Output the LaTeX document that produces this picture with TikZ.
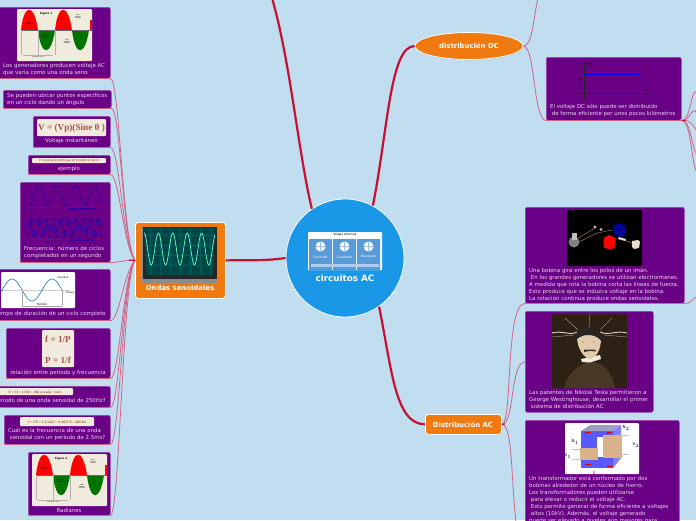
\documentclass[tikz,border=0pt]{standalone}
\usepackage{fontspec}
\setmainfont{DejaVu Sans}
\newfontfamily\serifeq{Liberation Serif}
\usetikzlibrary{shapes.geometric,shadows}
\definecolor{fondo}{RGB}{193,221,240}
\definecolor{morado}{RGB}{106,0,133}
\definecolor{naranja}{RGB}{240,122,16}
\definecolor{azulc}{RGB}{27,151,232}
\definecolor{azulp}{RGB}{88,155,216}
\definecolor{rama}{RGB}{200,16,52}
\definecolor{ramita}{RGB}{208,100,135}
\definecolor{crema}{RGB}{240,235,220}
\definecolor{tinta}{RGB}{165,85,75}
\definecolor{sepia}{RGB}{45,32,20}
\definecolor{saco}{RGB}{72,56,38}
\tikzset{
x=1pt, y=-1pt,
caja/.style={fill=morado, draw=morado!70!white, line width=0.5pt, rounded corners=2pt},
texto/.style={text=white!85!morado, font=\fontsize{5.45}{7}\selectfont, align=left, inner sep=0pt},
textoc/.style={texto, align=center},
tema/.style={fill=naranja, draw=white, line width=0.8pt, rounded corners=3pt, drop shadow={opacity=0.3, shadow xshift=0.4pt, shadow yshift=-0.8pt}},
titulo/.style={text=white, font=\fontsize{6.9}{8}\selectfont\bfseries, inner sep=0pt},
grueso/.style={draw=rama, line width=2.2pt},
fino/.style={draw=ramita, line width=0.8pt},
mini/.style={font=\fontsize{#1}{#1}\selectfont, inner sep=0pt, align=center},
mini/.default=2,
ecua/.style={text=tinta, font=\serifeq\fontsize{#1}{#1}\selectfont\bfseries, inner sep=0pt},
}
% figura de seno con semiciclos rojo y verde
\newcommand{\figseno}[3]{%
\begin{scope}[shift={(#1,#2)}]
\fill[crema, rounded corners=1pt] (0,0) rectangle (75,52);
\begin{scope}
\clip (0,0) rectangle (75,52);
\fill[red] (4,21) .. controls (7,-6) and (17,-6) .. (21,21) -- cycle;
\fill[red] (38,21) .. controls (41,-6) and (51,-6) .. (55,21) -- cycle;
\fill[red] (73,21) -- (73,11) -- (75,11) -- (75,21) -- cycle;
\fill[green!45!black] (21,21) .. controls (24,48) and (34,48) .. (38,21) -- cycle;
\fill[green!45!black] (55,21) .. controls (58,48) and (68,48) .. (72,21) -- cycle;
\draw[black!60, line width=0.25pt] (4,21) -- (75,21);
\draw[black!30, line width=0.2pt] (4,21) -- (4,46) (21,21) -- (21,46) (38,21) -- (38,46) (6,46) -- (36,46);
\end{scope}
\node[mini=2.6] at (29,4.5) {\bfseries Figure #3};
\node[mini=1.5] at (12,14.5) {Positive\\Alternation};
\node[mini=1.5] at (29,27) {Negative\\Alternation};
\node[mini=1.5] at (61,8) {Peak\\Positive\\Voltage};
\node[mini=1.5] at (50,33) {Peak\\Negative\\Voltage};
\node[mini=1.5] at (21,48.5) {Complete Cycle};
\end{scope}}
\begin{document}
\begin{tikzpicture}
\useasboundingbox[fill=fondo] (0,0) rectangle (696,520);
\clip (0,0) rectangle (696,520);

% hojas de la izquierda
\node[caja, minimum width=113pt, minimum height=71pt, anchor=north west] (generadores) at (-3,7) {};
\figseno{17}{9}{1}
\node[texto, anchor=north west] (generadorest) at (3,63) {Los generadores producen voltaje AC\\que varía como una onda seno};

\node[caja, minimum width=108pt, minimum height=18pt, anchor=north west] (puntos) at (3,90) {};
\node[texto, anchor=north west] (puntost) at (7,93) {Se pueden ubicar puntos específicos\\en un ciclo dando un ángulo};

\node[caja, minimum width=77pt, minimum height=31pt, anchor=north west] (instant) at (33,116) {};
\fill[crema, rounded corners=1pt] (37,119) rectangle (106,136);
\node[ecua=9.2] (instante) at (71.5,128) {V = (Vp)(Sine θ )};
\node[textoc] (instantt) at (71.5,141) {Voltaje instantáneo};

\node[caja, minimum width=82pt, minimum height=19pt, anchor=north west] (ejemplo) at (28,155) {};
\fill[crema, rounded corners=1pt] (32,158) rectangle (106,163);
\node[ecua=2.9] (ejemploe) at (69,160.5) {V=(Vp)(Sin θ)=(169V)(sin 30°)=(169)(0.5)=84.5V};
\node[textoc] (ejemplot) at (69,169) {ejemplo};

\node[caja, minimum width=90pt, minimum height=80pt, anchor=north west] (frecuencia) at (20,182) {};
\draw[blue!70!black, line width=0.3pt, domain=28:102, samples=80] plot (\x,{196-10*sin(19.4*(\x-34))});
\draw[blue!70!black, line width=0.3pt, domain=28:102, samples=160] plot (\x,{228-10*sin(48*(\x-28))});
\draw[blue!70!black, line width=0.2pt, domain=28:102, samples=160] plot (\x,{228-9*sin(48*(\x-30))});
\draw[red!70!black, line width=0.4pt] (28,207) -- (102,207) (28,239) -- (102,239);
\node[mini=2.6, text=blue!70!black] (bajat) at (83,210) {\bfseries BAJA FRECUENCIA};
\node[mini=2.6, text=blue!70!black] (altat) at (83,241) {\bfseries ALTA FRECUENCIA};
\node[texto, anchor=north west] (frecuenciat) at (24,246) {Frecuencia: número de ciclos\\completados en un segundo};

\node[caja, minimum width=113pt, minimum height=51pt, anchor=north west] (periodo) at (-3,269) {};
\fill[white, rounded corners=1pt] (1,272) rectangle (75,308);
\draw[black!20, line width=0.3pt] (1,290) -- (70,290);
\draw[cyan!60!blue, line width=0.6pt, domain=1:63, samples=60] plot (\x,{290-11*sin(9*(\x-1)-10)});
\draw[black!35, line width=0.2pt] (22,290) -- (22,306) (62,290) -- (62,306) (22,306) -- (62,306);
\node[mini=2.8, fill=white, inner sep=0.3pt] (periodol) at (42,304.5) {Período};
\node[mini=2.4] (tiempol) at (70,293) {Tiempo};
\node[mini=2.4] (amplitud) at (63,278) {Amplitud};
\node[texto, anchor=north east] (periodot) at (106,311) {Tiempo de duración de un ciclo completo};

\node[caja, minimum width=104pt, minimum height=50pt, anchor=north west] (relacion) at (6,328) {};
\fill[crema, rounded corners=1pt] (42,330) rectangle (74,367);
\node[ecua=9.2] (ef) at (58,339) {f = 1/P};
\node[ecua=9.2] (pe) at (58,360) {P = 1/f};
\node[textoc] (relaciont) at (58,373) {relación entre período y frecuencia};

\node[caja, minimum width=113pt, minimum height=21pt, anchor=north west] (ondaP) at (-3,386) {};
\fill[crema, rounded corners=1pt] (-3,388) rectangle (73,395);
\node[ecua=3.4] (ondaPe) at (35,392) {P = 1/f = 1/250 = .004 seconds = 4mS};
\node[texto, anchor=north east] (ondaPt) at (106,398) {¿Cuál es el período de una onda senoidal de 250Hz?};

\node[caja, minimum width=106pt, minimum height=29pt, anchor=north west] (ondaF) at (4,415) {};
\fill[crema, rounded corners=1pt] (20,417) rectangle (94,426);
\node[ecua=3.6] (ondaFe) at (57,422) {f = 1/P = 1/2.5mS = 1/.0025 S = 400 Hz};
\node[texto, anchor=north west] (ondaFt) at (8,428) {Cuál es la frecuencia de una onda\\\ senoidal con un período de 2.5ms?};

\node[caja, minimum width=82pt, minimum height=63pt, anchor=north west] (radianes) at (28,452) {};
\figseno{32}{454}{2}
\node[textoc] (radianest) at (69,510) {Radianes};

% ondas senoidales
\node[tema, minimum width=90pt, minimum height=76pt, anchor=north west] (ondas) at (135,222) {};
\fill[black!45] (142,227) rectangle (217,283);
\fill[black!85] (142.5,227) rectangle (216.5,279);
\fill[teal!55!black] (144,228) -- (215,228) -- (213,275) -- (146,275) -- cycle;
\begin{scope}
\clip (144,228) -- (215,228) -- (213,275) -- (146,275) -- cycle;
\foreach \gx in {150,160,...,210} \draw[teal!75!black, line width=0.2pt] (\gx,228) -- (\gx,275);
\foreach \gy in {235,245,...,275} \draw[teal!75!black, line width=0.2pt] (144,\gy) -- (215,\gy);
\end{scope}
\draw[green!40!cyan!60!white, line width=0.7pt, domain=144:215, samples=120] plot (\x,{249-16*cos(25*(\x-144))});
\node[titulo] (ondast) at (180,288) {Ondas senoidales};

% centro
\node[circle, fill=azulc, draw=white, line width=0.8pt, minimum size=118pt, inner sep=0pt] (centro) at (345,258) {};
\fill[white, rounded corners=0.5pt] (308,232) rectangle (382,270);
\foreach \px/\nom in {309/Senoidal,333/Cuadrada,357/Triangular}{
\fill[azulp, rounded corners=0.5pt] (\px,239) rectangle (\px+23,270);
\fill[white] (\px+11.5,246.5) circle (5pt);
\draw[azulp!60!white, line width=0.2pt] (\px+7,246.5) -- (\px+16,246.5) (\px+11.5,242) -- (\px+11.5,251);
\node[mini=3.2, text=white] at (\px+11.5,257) {\nom};
}
\fill[azulp!50!white] (311,264) rectangle (379,267);
\node[mini=3] (centrot) at (345,234.5) {Ondas Alternas};
\node[text=white, font=\fontsize{8.8}{10}\selectfont\bfseries, inner sep=0pt] (centron) at (345,278) {circuitos AC};

% distribucion DC
\node[ellipse, fill=naranja, draw=white, line width=0.8pt, minimum width=108pt, minimum height=27pt, inner sep=0pt, drop shadow={opacity=0.3, shadow xshift=0.4pt, shadow yshift=-0.8pt}] (dc) at (469,46) {};
\node[titulo] (dct) at (469,46) {distribución DC};
\node[caja, minimum width=135pt, minimum height=63pt, anchor=north west] (voltajeDC) at (546,57) {};
\draw[black!85, line width=0.3pt] (584.5,64) -- (584.5,100) (576,93.5) -- (650,93.5);
\draw[blue, line width=0.7pt] (584.5,74) -- (642,74);
\node[mini=5] (vd) at (589,65) {V$_{\mathrm{0}}$};
\node[mini=5] (ele) at (647,90) {t};
\node[mini=5] (mas) at (581,80) {+};
\node[texto, anchor=north west] (voltajeDCt) at (550,104) {El voltaje DC sólo puede ser distribuido\\\ de forma eficiente por unos pocos kilómetros};

% distribucion AC
\node[tema, minimum width=76pt, minimum height=20pt, anchor=north west] (ac) at (425,414) {};
\node[titulo] (act) at (463,424.5) {Distribución AC};

\node[caja, minimum width=159pt, minimum height=96pt, anchor=north west] (bobina) at (525,207) {};
\fill[black, rounded corners=1pt] (567,210) rectangle (642,266);
\draw[brown!70!white, line width=0.3pt] (575,240) -- (595,228) (575,244) -- (597,233) -- (612,230) (620,238) -- (636,245);
\fill[gray] (574,242) circle (5.5pt);
\fill[gray!50] (571.5,233) rectangle (576.5,240);
\fill[red] (603.5,238) -- (609,235) -- (615.5,238) -- (615,247) -- (610,250) -- (603.5,247) -- cycle;
\fill[blue!60!black] (613,226) -- (619,223) -- (626,226) -- (625,235) -- (619,237) -- (613,233) -- cycle;
\fill[crema!85!brown] (632,241) -- (638,240) -- (640,242) -- (639,248) -- (634,249) -- (632,247) -- cycle;
\fill[white!70!gray] (619,237) -- (626,239) -- (625,241) -- (618,239) -- cycle;
\fill[gray!60] (595,227) circle (1.6pt) (601,229.5) circle (1.6pt);
\node[texto, anchor=north west] (bobinat) at (529,268) {Una bobina gira entre los polos de un imán.\\\ En los grandes generadores se utilizan electroimanes.\\A medida que rota la bobina corta las líneas de fuerza.\\Esto produce que se induzca voltaje en la bobina.\\La rotación continua produce ondas senoidales.};

\node[caja, minimum width=128pt, minimum height=101pt, anchor=north west] (tesla) at (525,311) {};
\fill[sepia, rounded corners=1pt] (552,314) rectangle (627,388);
\draw[crema!80!brown, line width=0.9pt] (552,333) .. controls (562,330) and (570,336) .. (577,332) (627,333) .. controls (617,330) and (608,336) .. (600,332);
\draw[crema!60!brown, line width=0.3pt] (552,337) -- (574,335) (627,337) -- (604,335) (565,318) -- (578,330) (612,318) -- (600,330) (590,314) -- (589,328);
\fill[saco] (564,388) .. controls (568,372) and (578,366) .. (588,362) .. controls (602,360) and (612,372) .. (615,388) -- cycle;
\fill[crema] (581,359) -- (600,355) -- (601,359) -- (590,362.5) -- (582,362) -- cycle;
\fill[crema!70!brown] (577,338) .. controls (580,328) and (598,328) .. (601,338) .. controls (601,350) and (596,358) .. (590,359) .. controls (584,358) and (578,350) .. (577,338) -- cycle;
\fill[black!85] (576,340) .. controls (574,324) and (604,322) .. (602,342) .. controls (597,334) and (584,332) .. (576,340) -- cycle;
\fill[black!80] (584,349.5) -- (595,349.5) -- (596,351.5) -- (590,350.8) -- (584,352) -- cycle;
\fill[black!70] (583,342) circle (0.7pt) (594,342) circle (0.7pt);
\node[texto, anchor=north west] (teslat) at (529,390) {Las patentes de Nikolai Tesla permitieron a\\George Westinghouse, desarrollar el primer\\\ sistema de distribución AC};

\node[caja, minimum width=154pt, minimum height=110pt, anchor=north west] (transf) at (525,420) {};
\fill[white, rounded corners=1pt] (565,423) rectangle (639,474);
\fill[blue!65!white] (581,431) rectangle (613,468);
\fill[blue!25!gray!60!white] (581,431) -- (590,425) -- (621,425) -- (613,431) -- cycle;
\fill[blue!50!white] (613,431) -- (621,425) -- (621,458) -- (613,468) -- cycle;
\fill[white] (597,437) rectangle (603,457);
\fill[brown!60!white] (580,448) rectangle (598,460);
\fill[brown!60!white] (603,435) rectangle (622,458);
\draw[brown!50!white, line width=0.6pt] (572,449) -- (580,449) (572,459) -- (580,459) (622,435) -- (629,435) (622,454) -- (629,454);
\draw[red!85!black, line width=0.5pt] (585,434) -- (585,432) -- (591,432) (607,434) -- (607,432) -- (612,432) (585,464) -- (591,464) (607,466) -- (613,466);
\fill[red!40!white] (593,471) rectangle (595,474);
\node[mini=4] (ene1) at (575,442) {N$_1$};
\node[mini=4] (ene2) at (626,428) {N$_2$};
\node[mini=4] (ve1) at (568,456) {V$_1$};
\node[mini=4] (ve2) at (636,445) {V$_2$};
\node[texto, anchor=north west] (transft) at (529,476) {Un transformador está conformado por dos\\bobinas alrededor de un núcleo de hierro.\\Los transformadores pueden utilizarse\\\ para elevar o reducir el voltaje AC.\\\ Esto permite generar de forma eficiente a voltajes\\\ altos (10kV). Además, el voltaje generado\\puede ser elevado a niveles aún mayores para};

% conectores
\foreach \hoja/\lado in {generadores/-14,puntos/-14,instant/-14,ejemplo/-14,frecuencia/0,periodo/14,relacion/14,ondaP/14,ondaF/14,radianes/14}{
\draw[fino, line width=0.6pt] (\hoja.south west) -- (\hoja.south east);
\draw[fino] (\hoja.south east) .. controls +(9,0) and (123,260+\lado) .. (ondas.west);
}
\draw[rama, line width=1.2pt] (129,260) -- (ondas.west);
\coordinate (arribaA) at (272,-2);
\coordinate (arribaB) at (538,-2);
\coordinate (acabajo) at (516,522);
\draw[grueso] (arribaA) .. controls (290,60) and (298,150) .. (centro.124);
\draw[grueso] (centro.62) .. controls (388,130) and (390,46) .. (dc.west);
\draw[grueso] (centro.-55) .. controls (392,370) and (395,424) .. (ac.west);
\draw[grueso] (centro.west) .. controls (265,261) and (250,260) .. (ondas.east);
\draw[fino] (dc.east) .. controls +(9,0) and (533,20) .. (arribaB);
\draw[fino] (dc.east) .. controls +(12,0) and (533,120) .. (voltajeDC.south west) -- (voltajeDC.south east);
\foreach \fin in {93,113,131,155,172}{
\draw[fino] (voltajeDC.south east) .. controls +(10,0) and (691,\fin-8) .. (697,\fin);
}
\draw[rama, line width=1.1pt] (voltajeDC.south east) -- (686,120.5);
\draw[fino] (ac.east) .. controls +(11,0) and (505,303) .. (bobina.south west) -- (bobina.south east) .. controls +(6,0) and (692,300) .. (697,296);
\draw[fino] (ac.east) .. controls +(13,0) and (510,362) .. (tesla.west);
\draw[fino] (ac.east) .. controls +(11,0) and (511,480) .. (acabajo);
\draw[rama, line width=1.1pt] (ac.east) -- (505,424);
\end{tikzpicture}
\end{document}
